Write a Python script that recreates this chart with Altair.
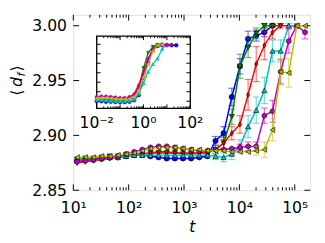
import altair as alt
import pandas as pd

# ---------------- data ----------------
series = ["b", "g", "r", "c", "m", "y"]
colors = ["#0000ff", "#008000", "#ff0000", "#00bfbf", "#bf00bf", "#bfbf00"]
shapes = ["circle", "triangle-down", "M0,-1L0.6,0L0,1L-0.6,0Z", "triangle-up",
          "M0,-1L0.866,-0.5L0.866,0.5L0,1L-0.866,0.5L-0.866,-0.5Z", "triangle-left"]

t = [11.7, 16.5, 23.1, 32.4, 45.5, 63.8, 89.5, 125.6, 176.2, 247.2, 346.7, 486.4,
     682.3, 957.2, 1343, 1884, 2642, 3707, 5200, 7295, 10233, 14355, 20137, 28249,
     39628, 55590, 77983, 109396, 153462]

d_b = [2.877, 2.878, 2.878, 2.879, 2.880, 2.880, 2.881, 2.882, 2.882, 2.881, 2.880, 2.879,
       2.879, 2.879, 2.879, 2.880, 2.881, 2.895, 2.902, 2.935, 2.963, 2.988, 2.991, 2.994, 3.000]
e_b = [0] * 17 + [0.004, 0.006, 0.008, 0.007, 0.007, 0.005, 0.004, 0.001]

d_g = [2.878, 2.879, 2.879, 2.880, 2.881, 2.881, 2.882, 2.883, 2.883, 2.884, 2.884, 2.884,
       2.884, 2.883, 2.883, 2.884, 2.884, 2.887, 2.893, 2.917, 2.963, 2.980, 2.993, 3.000,
       3.000, 3.000]
e_g = [0] * 17 + [0.004, 0.006, 0.007, 0.011, 0.009, 0.005, 0.002, 0, 0]

d_r = [2.875, 2.876, 2.877, 2.878, 2.879, 2.880, 2.881, 2.882, 2.883, 2.884, 2.885, 2.885,
       2.884, 2.884, 2.884, 2.884, 2.885, 2.887, 2.893, 2.902, 2.910, 2.937, 2.965, 2.982,
       2.994, 3.000, 3.000, 3.000]
e_r = [0] * 18 + [0.005, 0.006, 0.008, 0.014, 0.016, 0.013, 0.006, 0.002, 0, 0]

d_c = [2.877, 2.878, 2.878, 2.879, 2.880, 2.880, 2.881, 2.882, 2.882, 2.882, 2.882, 2.882,
       2.882, 2.882, 2.882, 2.882, 2.882, 2.881, 2.880, 2.883, 2.890, 2.908, 2.923, 2.941,
       2.977, 2.977, 3.000, 3.000]
e_c = [0] * 17 + [0.003, 0.004, 0.005, 0.006, 0.010, 0.012, 0.012, 0.010, 0.010, 0.002, 0]

d_m = [2.876, 2.877, 2.878, 2.879, 2.880, 2.881, 2.883, 2.885, 2.887, 2.889, 2.890, 2.890,
       2.889, 2.888, 2.887, 2.886, 2.886, 2.887, 2.887, 2.888, 2.889, 2.890, 2.890, 2.918,
       2.922, 2.958, 2.986, 3.000, 2.994]
e_m = [0] * 20 + [0.003, 0.004, 0.004, 0.007, 0.010, 0.011, 0.011, 0.002, 0.006]

d_y = [2.880, 2.880, 2.880, 2.881, 2.881, 2.882, 2.883, 2.884, 2.886, 2.888, 2.889, 2.889,
       2.889, 2.888, 2.887, 2.887, 2.886, 2.886, 2.886, 2.885, 2.885, 2.885, 2.886, 2.887,
       2.905, 2.958, 2.957, 3.000, 3.000]
e_y = [0] * 22 + [0.004, 0.007, 0.010, 0.012, 0.013, 0.002, 0]

# inset (rescaled time)
ix = [0.01, 0.0158, 0.0251, 0.0398, 0.0631, 0.1, 0.158, 0.251, 0.398, 0.631, 1.0,
      1.585, 2.512, 3.981, 6.31, 10.0, 15.85, 25.12]
i_b = [2.880, 2.880, 2.879, 2.879, 2.878, 2.878, 2.878, 2.879, 2.882, 2.893, 2.930, 2.962,
       2.988, 2.996, 2.998, 2.998, 2.998, 2.998]
i_g = [2.882, 2.882, 2.882, 2.881, 2.881, 2.881, 2.882, 2.884, 2.889, 2.910, 2.950, 2.982,
       2.995, 2.999, 2.999]
i_r = [2.884, 2.884, 2.884, 2.884, 2.884, 2.884, 2.885, 2.888, 2.896, 2.915, 2.942, 2.970,
       2.990, 2.998, 2.999, 2.999, 2.999]
i_c = [2.883, 2.883, 2.882, 2.881, 2.880, 2.880, 2.880, 2.881, 2.884, 2.896, 2.918, 2.942,
       2.958, 2.970, 2.990, 2.999]
i_m = [2.889, 2.890, 2.890, 2.889, 2.888, 2.887, 2.887, 2.889, 2.893, 2.910, 2.937, 2.968,
       2.990, 2.998, 2.999, 2.999]
i_y = [2.886, 2.887, 2.887, 2.886, 2.885, 2.884, 2.884, 2.885, 2.889, 2.902, 2.930, 2.958,
       2.985, 2.998, 2.999]

x_major = [10, 100, 1000, 10000, 100000]
x_minor = [m * 10 ** e for e in range(1, 6) for m in range(2, 10) if m * 10 ** e < 190000]
y_major = [2.85, 2.90, 2.95, 3.00]
ins_x_major = [0.01, 0.1, 1, 10, 100]
ins_x_minor = [m * 10.0 ** e for e in range(-2, 2) for m in range(2, 10)]
ins_y_ticks = [2.88, 2.90, 2.92, 2.94, 2.96, 2.98, 3.00]
ins_labels = [0.01, 1, 100]
ins_label_text = ["10\u207b\u00b2", "10\u2070", "10\u00b2"]

# ---------------- geometry ----------------
W, H = 243, 180
FONT = "DejaVu Sans"

xs = alt.Scale(type="log", domain=[10, 190000], nice=False)
ys = alt.Scale(domain=[2.85, 3.01], nice=False, zero=False)
xaxis = alt.Axis(values=x_major, ticks=False, domain=False, grid=False, labelFlush=False,
                 labelExpr="'10' + ['\u2070','\u00b9','\u00b2','\u00b3','\u2074','\u2075'][round(log(datum.value)/LN10)]",
                 labelFontSize=16, labelPadding=10, labelFont=FONT, labelColor="black",
                 title="t", titleFontStyle="italic", titleFontWeight="normal",
                 titleFontSize=16, titleFont=FONT, titlePadding=3, titleColor="black")
yaxis = alt.Axis(values=y_major, ticks=False, domain=False, grid=False, format=".2f",
                 labelFlush=False, labelFontSize=16, labelPadding=7, labelFont=FONT,
                 labelColor="black", title="")

isx = alt.Scale(type="log", domain=[0.01, 100], range=[24, 120], nice=False)
isy = alt.Scale(domain=[2.865, 3.017], range=[96, 22], nice=False, zero=False)

main_layers = []

def xt(field):
    return alt.X(field, type="quantitative", scale=xs, axis=xaxis)

def yt(field):
    return alt.Y(field, type="quantitative", scale=ys, axis=yaxis)

dfx_major = pd.DataFrame({"v": x_major})
dfx_minor = pd.DataFrame({"v": x_minor})
dfy_major = pd.DataFrame({"u": y_major})
for df, L in [(dfx_major, 6), (dfx_minor, 3)]:
    main_layers.append(alt.Chart(df).mark_rule(color="black", strokeWidth=1).encode(
        x=xt("v"), y=alt.value(H), y2=alt.value(H - L)))
    main_layers.append(alt.Chart(df).mark_rule(color="black", strokeWidth=1).encode(
        x=xt("v"), y=alt.value(0), y2=alt.value(L)))
main_layers.append(alt.Chart(dfy_major).mark_rule(color="black", strokeWidth=1).encode(
    y=yt("u"), x=alt.value(0), x2=alt.value(6)))
main_layers.append(alt.Chart(dfy_major).mark_rule(color="black", strokeWidth=1).encode(
    y=yt("u"), x=alt.value(W), x2=alt.value(W - 6)))

all_d = [d_b, d_g, d_r, d_c, d_m, d_y]
all_e = [e_b, e_g, e_r, e_c, e_m, e_y]
for s, col, shp, dl, el in zip(series, colors, shapes, all_d, all_e):
    df = pd.DataFrame({"t": t[:len(dl)], "d": dl, "e": el, "k": list(range(len(dl)))})
    df["lo"] = df["d"] - df["e"]
    df["hi"] = df["d"] + df["e"]
    de = df[df["e"] > 0]
    main_layers.append(alt.Chart(de).mark_rule(color=col, opacity=0.55, strokeWidth=1.2).encode(
        x=xt("t"), y=yt("lo"), y2="hi"))
    for f in ["lo", "hi"]:
        main_layers.append(alt.Chart(de).mark_tick(color=col, opacity=0.55, thickness=1.2,
                                                   size=7, orient="horizontal").encode(
            x=xt("t"), y=yt(f)))
    main_layers.append(alt.Chart(df).mark_line(color=col, strokeWidth=1.5).encode(
        x=xt("t"), y=yt("d"), order="k"))
    main_layers.append(alt.Chart(df).mark_point(filled=True, fill=col, stroke="black",
                                                strokeWidth=0.6, opacity=1, size=30,
                                                shape=shp).encode(
        x=xt("t"), y=yt("d")))

# y-axis title pieces  (angle bracket, italic d, subscript f)
one = pd.DataFrame({"z": [0]})
ttl = []
for txt, px, py, fs, st in [("\u27e8", -58, 80, 16, "normal"), ("d", -58, 69, 16, "italic"),
                             ("f", -52.5, 61.5, 11, "italic"), ("\u27e9", -58, 55, 16, "normal")]:
    ttl.append(alt.Chart(one).mark_text(text=txt, angle=270, font=FONT, fontSize=fs,
                                        fontStyle=st, align="center", baseline="middle",
                                        color="black").encode(
        x=alt.value(px), y=alt.value(py)))

main = alt.layer(*main_layers, *ttl)

# ---------------- inset ----------------
def ixe(field):
    return alt.X(field, type="quantitative", scale=isx, axis=None)

def iye(field):
    return alt.Y(field, type="quantitative", scale=isy, axis=None)

ins_layers = []
frame = pd.DataFrame({"x0": [isx.domain[0]], "x1": [isx.domain[1]],
                      "y0": [isy.domain[0]], "y1": [isy.domain[1]]})
ins_layers.append(alt.Chart(frame).mark_rect(fill="white", stroke="black", strokeWidth=1.3).encode(
    x=ixe("x0"), x2="x1", y=iye("y0"), y2="y1"))
for vals, L in [(ins_x_major, 4), (ins_x_minor, 2)]:
    dft = pd.DataFrame({"v": vals})
    ins_layers.append(alt.Chart(dft).mark_rule(color="black", strokeWidth=1).encode(
        x=ixe("v"), y=alt.value(96), y2=alt.value(96 - L)))
    ins_layers.append(alt.Chart(dft).mark_rule(color="black", strokeWidth=1).encode(
        x=ixe("v"), y=alt.value(22), y2=alt.value(22 + L)))
dfiy = pd.DataFrame({"u": ins_y_ticks})
ins_layers.append(alt.Chart(dfiy).mark_rule(color="black", strokeWidth=1).encode(
    y=iye("u"), x=alt.value(24), x2=alt.value(28)))
ins_layers.append(alt.Chart(dfiy).mark_rule(color="black", strokeWidth=1).encode(
    y=iye("u"), x=alt.value(120), x2=alt.value(116)))

for s, col, shp, yl in zip(series, colors, shapes, [i_b, i_g, i_r, i_c, i_m, i_y]):
    df = pd.DataFrame({"ix": ix[:len(yl)], "iy": yl, "k": list(range(len(yl)))})
    ins_layers.append(alt.Chart(df).mark_line(color=col, strokeWidth=1.2).encode(
        x=ixe("ix"), y=iye("iy"), order="k"))
    ins_layers.append(alt.Chart(df).mark_point(filled=True, fill=col, stroke=col,
                                               strokeWidth=0.3, opacity=1, size=16,
                                               shape=shp).encode(
        x=ixe("ix"), y=iye("iy")))

dfl = pd.DataFrame({"v": ins_labels, "lab": ins_label_text})
ins_layers.append(alt.Chart(dfl).mark_text(font=FONT, fontSize=16, align="center",
                                           baseline="alphabetic", color="black").encode(
    x=ixe("v"), y=alt.value(116), text="lab:N"))

inset = alt.layer(*ins_layers)

chart = alt.layer(main, inset).resolve_scale(x="independent", y="independent").properties(
    width=W, height=H,
    padding={"left": 67, "top": 4, "right": 7, "bottom": 43},
    autosize=alt.AutoSizeParams(type="none"),
).configure_view(stroke="black", strokeWidth=1.5).configure(background="white")

chart.save("out.html", embed_options={"renderer": "svg", "actions": False})
